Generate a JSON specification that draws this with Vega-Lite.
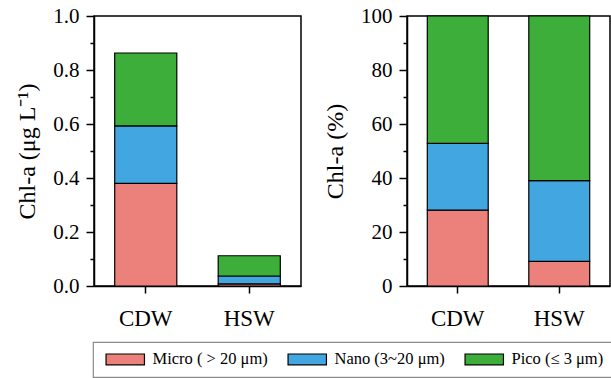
{
  "$schema": "https://vega.github.io/schema/vega-lite/v6.json",
  "padding": {"left": 15, "top": 4, "right": 0, "bottom": 0},
  "autosize": {"type": "pad"},
  "background": "white",
  "config": {
    "font": "Liberation Serif",
    "view": {"stroke": "black", "strokeWidth": 1.5},
    "axis": {
      "domainColor": "black", "domainWidth": 1.5,
      "tickColor": "black", "tickWidth": 1.5,
      "labelColor": "black", "titleColor": "black",
      "labelFont": "Liberation Serif", "titleFont": "Liberation Serif",
      "titleFontWeight": "normal", "grid": false
    },
    "legend": {
      "strokeColor": "#8a8a8a", "strokeWidth": 1.2, "padding": 9,
      "labelFont": "Liberation Serif", "labelFontSize": 16.5, "labelColor": "black",
      "labelLimit": 0, "labelOffset": 19, "symbolOffset": 15,
      "symbolType": "M-3.2,-0.9H3.2V0.9H-3.2Z", "symbolSize": 144,
      "symbolStrokeColor": "black", "symbolStrokeWidth": 1.2, "symbolOpacity": 1,
      "columnPadding": 16
    },
    "concat": {"spacing": 20}
  },
  "data": {"values": [
    {"site": "CDW", "size": "Micro ( > 20 μm)", "ord": 1, "chl": 0.38, "pct": 28.1},
    {"site": "CDW", "size": "Nano (3~20 μm)", "ord": 2, "chl": 0.213, "pct": 24.7},
    {"site": "CDW", "size": "Pico (≤ 3 μm)", "ord": 3, "chl": 0.27, "pct": 47.2},
    {"site": "HSW", "size": "Micro ( > 20 μm)", "ord": 1, "chl": 0.008, "pct": 9.1},
    {"site": "HSW", "size": "Nano (3~20 μm)", "ord": 2, "chl": 0.029, "pct": 29.9},
    {"site": "HSW", "size": "Pico (≤ 3 μm)", "ord": 3, "chl": 0.075, "pct": 61.0}
  ]},
  "hconcat": [
    {
      "width": 207, "height": 270,
      "layer": [
        {
          "mark": {"type": "bar", "stroke": "black", "strokeWidth": 1.2},
          "encoding": {
            "x": {"field": "site", "type": "nominal", "scale": {"paddingInner": 0.4, "paddingOuter": 0.2},
                  "axis": {"title": null, "labelAngle": 0, "labelFontSize": 23, "tickSize": 7, "labelPadding": 14}},
            "y": {"field": "chl", "type": "quantitative", "stack": "zero",
                  "scale": {"domain": [0, 1], "nice": false},
                  "axis": {"title": "Chl-a (μg L⁻¹)", "values": [0, 0.2, 0.4, 0.6, 0.8, 1.0], "format": ".1f",
                           "labelFontSize": 21, "titleFontSize": 24, "tickSize": 8, "labelPadding": 7, "titlePadding": 13}},
            "color": {"field": "size", "type": "nominal",
                      "scale": {"domain": ["Micro ( > 20 μm)", "Nano (3~20 μm)", "Pico (≤ 3 μm)"],
                                "range": ["#EC817B", "#42A7E0", "#3DAE3A"]},
                      "legend": {"title": null, "orient": "none", "direction": "horizontal", "columns": 3,
                                 "legendX": -1, "legendY": 326}},
            "order": {"field": "ord", "type": "quantitative"}
          }
        },
        {
          "mark": {"type": "rule", "opacity": 0},
          "encoding": {
            "y": {"field": "chl", "type": "quantitative",
                  "axis": {"orient": "left", "values": [0.1, 0.3, 0.5, 0.7, 0.9], "labels": false, "domain": false,
                           "title": null, "tickSize": 4}}
          }
        }
      ],
      "resolve": {"axis": {"y": "independent"}}
    },
    {
      "width": 203, "height": 270,
      "layer": [
        {
          "mark": {"type": "bar", "stroke": "black", "strokeWidth": 1.2},
          "encoding": {
            "x": {"field": "site", "type": "nominal", "scale": {"paddingInner": 0.4, "paddingOuter": 0.2},
                  "axis": {"title": null, "labelAngle": 0, "labelFontSize": 23, "tickSize": 7, "labelPadding": 14}},
            "y": {"field": "pct", "type": "quantitative", "stack": "zero",
                  "scale": {"domain": [0, 100], "nice": false},
                  "axis": {"title": "Chl-a (%)", "values": [0, 20, 40, 60, 80, 100],
                           "labelFontSize": 21, "titleFontSize": 24, "tickSize": 8, "labelPadding": 7, "titlePadding": 13}},
            "color": {"field": "size", "type": "nominal"},
            "order": {"field": "ord", "type": "quantitative"}
          }
        },
        {
          "mark": {"type": "rule", "opacity": 0},
          "encoding": {
            "y": {"field": "pct", "type": "quantitative",
                  "axis": {"orient": "left", "values": [10, 30, 50, 70, 90], "labels": false, "domain": false,
                           "title": null, "tickSize": 4}}
          }
        }
      ],
      "resolve": {"axis": {"y": "independent"}}
    }
  ],
  "resolve": {"scale": {"color": "shared"}}
}
